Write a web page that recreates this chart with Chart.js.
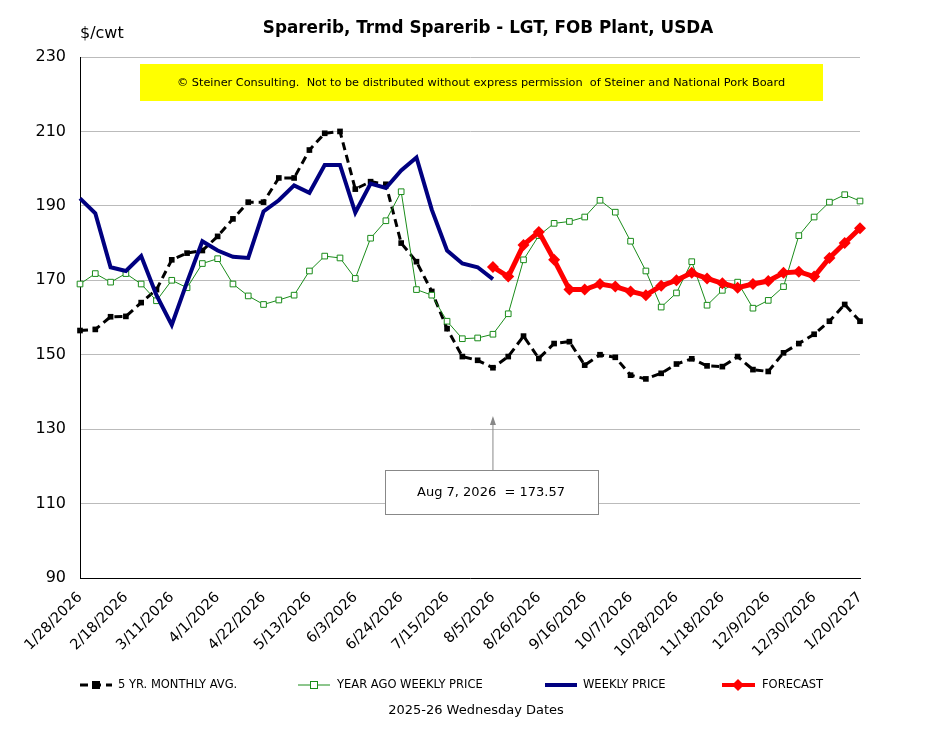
<!DOCTYPE html>
<html><head><meta charset="utf-8">
<script src="https://cdn.jsdelivr.net/npm/chart.js@4"></script>
<style>html,body{margin:0;padding:0;background:#fff}</style>
</head><body>
<canvas id="c" width="944" height="732"></canvas>
<script>
const startDate = new Date(2026,0,28);
const categories = [];
for (let i=0;i<52;i++){const d=new Date(startDate.getTime()+i*7*86400000);categories.push((d.getMonth()+1)+'/'+d.getDate()+'/'+d.getFullYear());}
const yTicks = [90,110,130,150,170,190,210,230];
const fiveYrAvg = [156.5,156.8,160.2,160.3,164,167.5,175.5,177.3,178,181.8,186.5,191,191,197.5,197.5,205,209.5,210,194.5,196.5,195.8,180,175,167,157,149.5,148.5,146.5,149.5,155,149,153,153.5,147.2,150,149.3,144.5,143.5,145,147.5,148.9,147,146.8,149.5,146,145.5,150.5,153,155.5,159,163.5,159];
const yearAgo = [169,171.8,169.5,171.8,169,164.5,170,168,174.5,175.8,169,165.8,163.5,164.7,166,172.5,176.5,176,170.5,181.3,186,193.8,167.5,166,159,154.3,154.5,155.5,161,175.5,182,185.3,185.8,187,191.5,188.3,180.5,172.5,162.8,166.6,175,163.3,167.3,169.5,162.5,164.6,168.3,182,187,191,193,191.3];
const weekly = [192,188,173.5,172.5,176.5,166,158,169.5,180.5,178,176.3,176,188.5,191.5,195.5,193.5,201,201,188.2,196,194.8,199.5,203,189,178,174.5,173.5,170.3];
const forecastVals = [173.57,171,179.5,183,175.5,167.5,167.5,169,168.3,167,166,168.5,170,172,170.5,169.2,168,169,169.8,172,172.3,171,176,180,184];
const forecast = Array(27).fill(null).concat(forecastVals);
const titleText = 'Sparerib, Trmd Sparerib - LGT, FOB Plant, USDA';
const noticeText = '© Steiner Consulting.  Not to be distributed without express permission  of Steiner and National Pork Board';
const annText = 'Aug 7, 2026  = 173.57';

const FONT = "'DejaVu Sans', Verdana, sans-serif";
const deco = {
  id:'deco',
  afterDraw(ch){
    const c=ch.ctx; c.save();
    c.fillStyle='#000'; c.textAlign='center'; c.textBaseline='middle';
    c.font="bold 16.8px "+FONT; c.fillText(titleText,488,29);
    c.textAlign='left'; c.font="16px "+FONT; c.fillText('$/cwt',80,34);
    c.fillStyle='#ffff00'; c.fillRect(140,64,683,37);
    c.fillStyle='#000'; c.textAlign='center'; c.font="11.3px "+FONT; c.fillText(noticeText,481,83);
    const xs=ch.scales.x;
    const ax=xs.getPixelForValue(27);
    c.strokeStyle='#888'; c.lineWidth=1;
    c.beginPath(); c.moveTo(ax,470); c.lineTo(ax,420); c.stroke();
    c.fillStyle='#888'; c.beginPath(); c.moveTo(ax,416); c.lineTo(ax-3,425); c.lineTo(ax+3,425); c.closePath(); c.fill();
    c.fillStyle='#fff'; c.fillRect(385,470,213,44); c.strokeRect(385.5,470.5,213,44);
    c.fillStyle='#000'; c.font="13px "+FONT; c.fillText(annText,491,493);
    const ly=685; c.font="11.5px "+FONT; c.textAlign='left';
    c.setLineDash([8,5]); c.strokeStyle='#000'; c.lineWidth=3;
    c.beginPath(); c.moveTo(80,ly); c.lineTo(112,ly); c.stroke(); c.setLineDash([]);
    c.fillStyle='#000'; c.fillRect(92,ly-4,8,8); c.fillText('5 YR. MONTHLY AVG.',118,ly);
    c.strokeStyle='#1a8c1a'; c.lineWidth=1; c.beginPath(); c.moveTo(298,ly); c.lineTo(330,ly); c.stroke();
    c.fillStyle='#fff'; c.fillRect(310,ly-4,8,8); c.strokeRect(310.5,ly-3.5,7,7);
    c.fillStyle='#000'; c.fillText('YEAR AGO WEEKLY PRICE',337,ly);
    c.strokeStyle='#000080'; c.lineWidth=4; c.beginPath(); c.moveTo(545,ly); c.lineTo(577,ly); c.stroke();
    c.fillText('WEEKLY PRICE',583,ly);
    c.strokeStyle='#ff0000'; c.lineWidth=4; c.beginPath(); c.moveTo(722,ly); c.lineTo(755,ly); c.stroke();
    c.fillStyle='#ff0000'; c.beginPath(); c.moveTo(738,ly-6); c.lineTo(744,ly); c.lineTo(738,ly+6); c.lineTo(732,ly); c.closePath(); c.fill();
    c.fillStyle='#000'; c.fillText('FORECAST',762,ly);
    c.textAlign='center'; c.font="13px "+FONT; c.fillText('2025-26 Wednesday Dates',476,711);
    c.restore();
  }
};
new Chart(document.getElementById('c'),{
  type:'line',
  data:{labels:categories,datasets:[
    {label:'5 YR. MONTHLY AVG.',data:fiveYrAvg,borderColor:'#000',backgroundColor:'#000',borderWidth:3,borderDash:[8,5],pointStyle:'rect',pointRadius:4,pointBorderWidth:0,tension:0,order:4},
    {label:'YEAR AGO WEEKLY PRICE',data:yearAgo,borderColor:'#1a8c1a',backgroundColor:'#fff',borderWidth:1,pointStyle:'rect',pointRadius:4,pointBorderWidth:1,tension:0,order:3},
    {label:'WEEKLY PRICE',data:weekly,borderColor:'#000080',borderWidth:4,pointRadius:0,tension:0,order:1},
    {label:'FORECAST',data:forecast,borderColor:'#ff0000',backgroundColor:'#ff0000',borderWidth:5,pointStyle:'rectRot',pointRadius:6,pointBorderWidth:0,tension:0,order:2}
  ]},
  options:{responsive:false,animation:false,
    layout:{padding:{top:57,right:84,left:0,bottom:0}},
    plugins:{legend:{display:false},tooltip:{enabled:false}},
    scales:{
      x:{afterFit(s){s.height=154;},grid:{display:false,drawTicks:true},border:{color:'#000',width:1},
        ticks:{autoSkip:false,minRotation:45,maxRotation:45,color:'#000',font:{size:14.5,family:FONT},
          callback(v,i){return i%3===0?categories[i]:'';}}},
      y:{min:90,max:230,afterFit(s){s.width=80;},afterBuildTicks(s){s.ticks=yTicks.map(v=>({value:v}));},
        grid:{color:'#bbb',drawTicks:false},border:{color:'#000',width:1},
        ticks:{color:'#000',padding:14,font:{size:16,family:FONT}}}
    }
  },
  plugins:[deco]
});
</script>
</body></html>
